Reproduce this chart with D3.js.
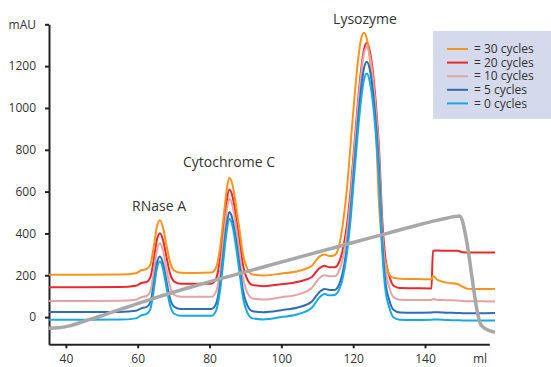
<!DOCTYPE html>
<html>
<head>
<meta charset="utf-8">
<script src="https://cdn.jsdelivr.net/npm/d3@7/dist/d3.min.js"></script>
<style>
  body { margin: 0; background: #fff; }
  text { font-family: "Open Sans", "Noto Sans", sans-serif; fill: #333; }
</style>
</head>
<body>
<div id="chart"></div>
<script>
// elution volume grid (ml) shared by the UV traces
const mlGrid = [35.3, 45, 55, 59.5, 61, 62.5, 63.5, 64.5, 65.3, 66.2, 67.1, 68, 69, 70.2, 72, 76, 80.5,
  81.8, 82.9, 83.9, 84.7, 85.5, 86.4, 87.3, 88.3, 89.3, 90.5, 92, 95, 100, 105, 108.5, 110.5, 112, 113.5, 114.8,
  116, 117.2, 118.3, 119.3, 120.3, 121.3, 122.2, 123, 123.8, 124.6, 125.4, 126.3, 127.2, 128.1, 129, 130, 131.2,
  133, 137, 141.8, 142.2, 143.5, 146, 149, 150.5, 152, 155, 159.5];

// UV absorbance (mAU)
const cycles30 = [203, 203, 204, 210, 224, 230, 251, 339, 429, 463, 425, 344, 263, 222, 212, 211, 213,
  236, 326, 476, 598, 666, 632, 543, 422, 302, 232, 204, 199, 208, 222, 246, 288, 299, 292, 296,
  335, 455, 620, 830, 1040, 1220, 1330, 1360, 1330, 1240, 1100, 900, 540, 340, 260, 205, 188,
  184, 182, 181, 196, 178, 165, 158, 145, 135, 134, 134];
const cycles20 = [143, 143, 144, 150, 163, 168, 189, 277, 366, 401, 365, 288, 209, 170, 160, 160, 160,
  183, 273, 422, 544, 610, 577, 490, 370, 250, 181, 153, 148, 157, 170, 192, 232, 245, 238, 238,
  260, 330, 447, 609, 819, 1024, 1182, 1279, 1310, 1275, 1186, 1024, 806, 464, 279, 200, 151,
  139, 138, 137, 317, 318, 317, 317, 310, 309, 309, 309];
const cycles10 = [77, 77, 78, 83, 95, 101, 123, 218, 315, 353, 315, 232, 147, 106, 97, 97, 97,
  121, 215, 371, 497, 566, 532, 441, 315, 191, 118, 89, 84, 95, 110, 140, 185, 200, 195, 195,
  218, 289, 407, 574, 790, 999, 1160, 1260, 1290, 1254, 1161, 994, 770, 418, 227, 145, 96,
  83, 82, 82, 86, 82, 81, 80, 77, 76, 76, 75];
const cycles5 = [24, 24, 25, 30, 42, 49, 71, 162, 255, 290, 253, 172, 89, 49, 39, 39, 39,
  63, 156, 309, 434, 502, 467, 377, 253, 129, 57, 28, 23, 33, 48, 75, 118, 135, 130, 130,
  153, 223, 342, 507, 721, 930, 1091, 1190, 1221, 1185, 1092, 927, 705, 355, 165, 84, 35,
  22, 21, 22, 23, 23, 21, 20, 19, 19, 19, 20];
const cycles0 = [-13, -13, -12, -6, 8, 15, 38, 133, 229, 266, 227, 143, 57, 16, 6, 6, 6,
  30, 123, 277, 401, 470, 435, 344, 220, 96, 23, -6, -11, 0, 16, 45, 92, 110, 104, 106,
  128, 196, 311, 472, 680, 884, 1039, 1135, 1165, 1128, 1037, 875, 655, 313, 127, 48, -1,
  -13, -14, -13, -12, -12, -14, -15, -16, -16, -16, -16];

// gradient trace (grey)
const gradMl = [35.3, 38, 41, 45, 49.5, 55, 63.4, 77.3, 90, 105, 120, 130, 138.6, 142.3, 146, 149.6,
  150.4, 151.2, 152.1, 153.2, 154.4, 155.3, 156.2, 157.2, 158.3, 159.5];
const gradVal = [-53, -51, -42, -20, 4, 36, 84, 156, 216, 287, 357, 403, 443, 459, 473, 484,
  460, 400, 310, 175, 40, -26, -48, -59, -67, -72];

const seriesNames = ["= 30 cycles", "= 20 cycles", "= 10 cycles", "= 5 cycles", "= 0 cycles"];
const seriesColors = ["#f7941d", "#e8282d", "#e6a3a3", "#2f6db5", "#18a8e2"];
const seriesData = [cycles30, cycles20, cycles10, cycles5, cycles0];

const yTicks = [0, 200, 400, 600, 800, 1000, 1200, 1400];
const xTicks = [40, 60, 80, 100, 120, 140];

const peakNames = ["RNase A", "Cytochrome C", "Lysozyme"];
const peakPos = [[159, 211], [229, 167], [365, 24]];

const width = 551, height = 367;
const svg = d3.select("#chart").append("svg")
  .attr("width", width)
  .attr("height", height);

const x = d3.scaleLinear().domain([35.3, 157.9]).range([49, 489.3]);
const y = d3.scaleLinear().domain([-130, 1400]).range([344.3, 24.3]);

// legend box
const leg = svg.append("g");
leg.append("rect")
  .attr("x", 433).attr("y", 31)
  .attr("width", 118).attr("height", 88)
  .attr("fill", "#d4d9eb");
seriesNames.forEach((name, i) => {
  const ly = 49 + i * 13.6;
  leg.append("line")
    .attr("x1", 447).attr("x2", 468)
    .attr("y1", ly).attr("y2", ly)
    .attr("stroke", seriesColors[i])
    .attr("stroke-width", 2);
  leg.append("text")
    .attr("x", 474).attr("y", ly)
    .attr("dy", "0.35em")
    .attr("font-size", "12px")
    .text(name);
});

// axes
const xAxis = svg.append("g")
  .attr("transform", "translate(0," + 344.3 + ")")
  .call(d3.axisBottom(x).tickValues(xTicks).tickSize(4).tickSizeOuter(0).tickPadding(6));
const yAxis = svg.append("g")
  .attr("transform", "translate(" + 49 + ",0)")
  .call(d3.axisLeft(y).tickValues(yTicks).tickSize(4).tickSizeOuter(0).tickPadding(9)
    .tickFormat(d => d === 1400 ? "mAU" : d));

[xAxis, yAxis].forEach(a => {
  a.select(".domain").attr("stroke", "#222").attr("stroke-width", 2);
  a.selectAll(".tick line").attr("stroke", "#222").attr("stroke-width", 2);
  a.selectAll(".tick text")
    .attr("fill", "#333")
    .attr("font-size", "12px")
    .attr("font-family", "'Open Sans', 'Noto Sans', sans-serif");
});

svg.append("text")
  .attr("x", 480).attr("y", 362.5)
  .attr("text-anchor", "middle")
  .attr("font-size", "12px")
  .text("ml");

// traces
const line = d3.line()
  .x(d => x(d[0]))
  .y(d => y(d[1]))
  .curve(d3.curveMonotoneX);

const drawOrder = [1, 0, 2, 3, 4];
drawOrder.forEach(i => {
  svg.append("path")
    .datum(mlGrid.map((m, k) => [m, seriesData[i][k]]))
    .attr("fill", "none")
    .attr("stroke", seriesColors[i])
    .attr("stroke-width", 2)
    .attr("stroke-linejoin", "round")
    .attr("d", line);
});

svg.append("path")
  .datum(gradMl.map((m, k) => [m, gradVal[k]]))
  .attr("fill", "none")
  .attr("stroke", "#a8a8a8")
  .attr("stroke-width", 3.5)
  .attr("stroke-linejoin", "round")
  .attr("d", line);

// peak labels
peakNames.forEach((p, i) => {
  svg.append("text")
    .attr("x", peakPos[i][0]).attr("y", peakPos[i][1])
    .attr("text-anchor", "middle")
    .attr("font-size", "14px")
    .text(p);
});
</script>
</body>
</html>
